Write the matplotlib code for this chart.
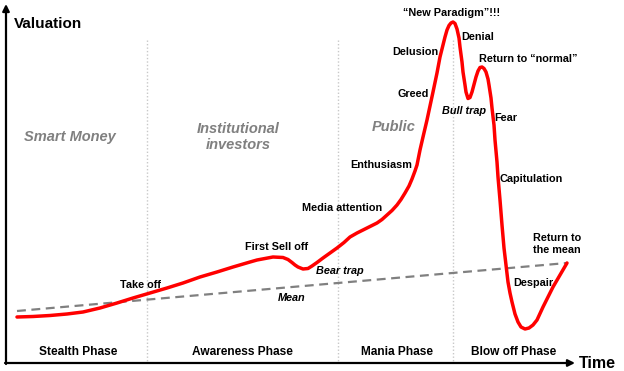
import matplotlib.pyplot as plt

# -------------------------
#  data (time / valuation, y grows downward)
# -------------------------
curve_t = [17, 33, 50, 67, 83, 100, 117, 133, 150, 167, 183, 200, 217, 233, 250, 257,
           265, 273, 283, 288, 292, 295, 298, 303, 308, 312, 317, 323, 330, 337, 344,
           350, 357, 363, 370, 377, 382, 387, 392, 397, 401, 405, 409, 412, 415, 417,
           420, 423, 427, 430, 433, 437, 440, 443, 445, 447, 449, 451, 453, 455, 457,
           459, 460, 462, 463, 465, 466, 468, 470, 472, 474, 476, 478, 480, 482, 484,
           486, 488, 489, 491, 492, 494, 495, 497, 498, 500, 502, 504, 506, 508, 510,
           512, 515, 518, 521, 525, 529, 533, 537, 543, 548, 553, 560, 567]
curve_v = [317, 316.5, 315.5, 314, 312, 308, 303, 298, 293, 288, 283, 277, 272, 267, 262, 260,
           258.5, 257, 257.5, 259.5, 262.5, 265, 267, 269, 268.5, 266, 262.5, 258, 253, 248, 242.5,
           237, 233, 230, 226.5, 223, 219.5, 215, 210.5, 205, 199.5, 193, 186, 179, 171, 165,
           150, 137, 120, 106, 92, 73, 57, 45, 37, 30, 25.5, 23, 22, 23.5, 29,
           38, 47, 62, 72, 85, 92, 98.5, 97.5, 92, 84.5, 77, 71, 67.5, 67, 68.5,
           72, 79, 85, 98, 108, 125, 140, 162, 177, 200, 225, 248, 265, 282, 293,
           302, 314, 322, 327, 329, 328, 325, 320, 307, 297, 287, 275, 263]

mean_t = [17, 567]
mean_v = [311, 263]

divider_t = [147, 338, 453]

phase_names = ["Stealth Phase", "Awareness Phase", "Mania Phase", "Blow off Phase"]
phase_t = [78, 242, 397, 514]

groups = ["Smart Money", "Institutional\ninvestors", "Public"]
group_t = [70, 238, 394]
group_v = [137, 137, 127]

notes = ["Take off", "First Sell off", "Media attention", "Enthusiasm", "Greed",
         "Delusion", "\u201cNew Paradigm\u201d!!!", "Denial", "Return to \u201cnormal\u201d",
         "Fear", "Capitulation", "Return to\nthe mean", "Despair"]
note_t = [141, 277, 342, 381, 413, 415, 452, 478, 528, 506, 531, 557, 533]
note_v = [285, 247, 208, 165, 94, 52, 13, 37, 59, 118, 179, 244, 283]

italic_notes = ["Bear trap", "Mean", "Bull trap"]
italic_t = [340, 292, 464]
italic_v = [271, 298, 111]

# -------------------------
#  figure
# -------------------------
plt.rcParams['font.family'] = ['Liberation Sans', 'DejaVu Sans']

fig = plt.figure(figsize=(6.24, 3.71), dpi=100)
ax = fig.add_axes([0, 0, 1, 1])
ax.set_xlim(0, 624)
ax.set_ylim(371, 0)
ax.axis("off")

# phase dividers
for t in divider_t:
    ax.plot([t, t], [40, 362], color="#c8c8c8", lw=1.0, ls=(0, (1, 1.5)))

# axes arrows
ax.annotate("", xy=(6, 4), xytext=(6, 364),
            arrowprops=dict(arrowstyle="-|>", color="black", lw=1.6,
                            mutation_scale=10, shrinkA=0, shrinkB=0))
ax.annotate("", xy=(575, 363), xytext=(5, 363),
            arrowprops=dict(arrowstyle="-|>", color="black", lw=1.6,
                            mutation_scale=10, shrinkA=0, shrinkB=0))
ax.text(14, 24, "Valuation", fontsize=11, fontweight="bold", ha="left", va="center")
ax.text(579, 364, "Time", fontsize=11.5, fontweight="bold", ha="left", va="center")

# mean + cycle
ax.plot(mean_t, mean_v, color="#808080", lw=1.6, ls=(0, (4, 2.5)))
ax.plot(curve_t, curve_v, color="#ff0000", lw=2.5, solid_capstyle="round",
        solid_joinstyle="round")

for name, t in zip(phase_names, phase_t):
    ax.text(t, 352, name, fontsize=8.6, fontweight="bold", ha="center", va="center")

for name, t, v in zip(groups, group_t, group_v):
    ax.text(t, v, name, fontsize=10.5, fontweight="bold", style="italic",
            color="#808080", ha="center", va="center", linespacing=1.25)

for name, t, v in zip(notes, note_t, note_v):
    ax.text(t, v, name, fontsize=7.8, fontweight="bold", ha="center", va="center",
            linespacing=1.15)

for name, t, v in zip(italic_notes, italic_t, italic_v):
    ax.text(t, v, name, fontsize=7.8, fontweight="bold", style="italic",
            ha="center", va="center")

fig.savefig("out.png", dpi=100)
